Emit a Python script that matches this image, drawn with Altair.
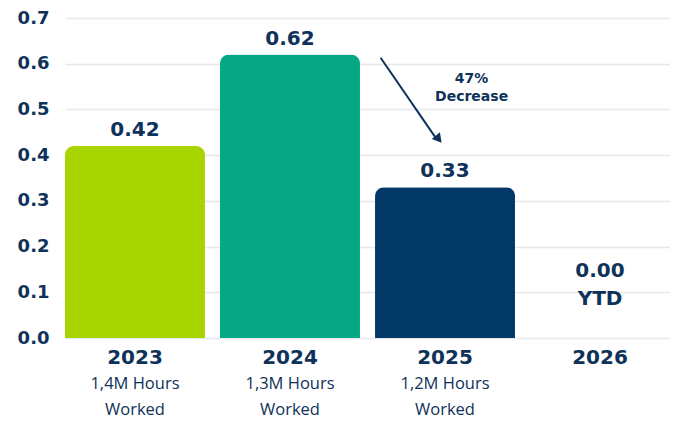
import altair as alt
import pandas as pd

years = ["2023", "2024", "2025", "2026"]
values = [0.42, 0.62, 0.33, 0.0]
value_labels = ["0.42", "0.62", "0.33", "0.00\nYTD"]
label_at = [0.42, 0.62, 0.33, 0.147]
hours = ["1,4M Hours\nWorked", "1,3M Hours\nWorked", "1,2M Hours\nWorked", ""]
colors = ["#A8D400", "#05A882", "#023866", "#023866"]

arrow_from = [0.613]
arrow_to = [0.435]
note_text = ["47%\nDecrease"]
note_at = [0.567]

NAVY = "#0E3259"
BOLD = "DejaVu Sans"
FONT = "Open Sans"

df = pd.DataFrame({"year": years, "value": values, "vlabel": value_labels,
                   "label_at": label_at, "hours": hours, "color": colors})
df["ylab_at"] = -0.044
df["hrs_at"] = -0.101
top = df[df["year"] != "2026"]
last = df[df["year"] == "2026"]

ann = pd.DataFrame({"year": ["2025"], "y1": arrow_from, "y2": arrow_to,
                    "note": note_text, "note_at": note_at})

xs = alt.Scale(domain=years, paddingInner=0.097, paddingOuter=0.0)
ys = alt.Scale(domain=[0, 0.7])

base = alt.Chart(df)

bars = base.mark_bar(cornerRadiusTopLeft=9, cornerRadiusTopRight=9, clip=False).encode(
    x=alt.X("year:N", scale=xs, sort=years,
            axis=alt.Axis(labels=False, ticks=False, domain=False, title=None, grid=False)),
    y=alt.Y("value:Q", scale=ys,
            axis=alt.Axis(values=[0, 0.1, 0.2, 0.3, 0.4, 0.5, 0.6, 0.7], format=".1f",
                          labelFont=BOLD, labelFontSize=18, labelFontWeight="bold",
                          labelColor=NAVY, labelPadding=16, ticks=False, domain=False,
                          title=None, gridColor="#E6E8EE", gridWidth=1.5)),
    color=alt.Color("color:N", scale=None),
)

vlab = alt.Chart(top).mark_text(font=BOLD, fontSize=20, fontWeight="bold", color=NAVY,
                                baseline="bottom", dy=-6).encode(
    x=alt.X("year:N", scale=xs, sort=years), y=alt.Y("label_at:Q", scale=ys), text="vlabel:N")

vlab26 = alt.Chart(last).mark_text(font=BOLD, fontSize=20, fontWeight="bold", color=NAVY,
                                   baseline="middle", lineBreak="\n", lineHeight=28).encode(
    x=alt.X("year:N", scale=xs, sort=years), y=alt.Y("label_at:Q", scale=ys), text="vlabel:N")

ylab = base.mark_text(font=BOLD, fontSize=20, fontWeight="bold", color=NAVY,
                      baseline="middle").encode(
    x=alt.X("year:N", scale=xs, sort=years), y=alt.Y("ylab_at:Q", scale=ys), text="year:N")

hlab = base.mark_text(font=FONT, fontSize=16.5, fontWeight=400, color=NAVY,
                      baseline="middle", lineBreak="\n", lineHeight=26).encode(
    x=alt.X("year:N", scale=xs, sort=years), y=alt.Y("hrs_at:Q", scale=ys), text="hours:N")

arrow = alt.Chart(ann).mark_rule(color=NAVY, strokeWidth=2).encode(
    x=alt.X("year:N", scale=xs, sort=years, bandPosition=0.04),
    x2=alt.X2("year:N", bandPosition=0.44),
    y=alt.Y("y1:Q", scale=ys), y2="y2:Q")

head = alt.Chart(ann).mark_point(shape="triangle-down", filled=True, size=110, opacity=1,
                                 color=NAVY, angle=321).encode(
    x=alt.X("year:N", scale=xs, sort=years, bandPosition=0.455),
    y=alt.Y("y2:Q", scale=ys))

note = alt.Chart(ann).mark_text(font=BOLD, fontSize=14, fontWeight="bold", color=NAVY,
                                baseline="middle", lineBreak="\n", lineHeight=18).encode(
    x=alt.X("year:N", scale=xs, sort=years, bandPosition=0.69),
    y=alt.Y("note_at:Q", scale=ys), text="note:N")

chart = alt.layer(bars, vlab, vlab26, ylab, hlab, arrow, head, note).properties(
    width=605, height=320,
    autosize=alt.AutoSizeParams(type="none"),
    padding={"left": 57, "top": 10, "right": 0, "bottom": 86},
    background="white",
).configure_view(stroke=None)

chart.save("out.html", embed_options={"renderer": "svg", "actions": False})
